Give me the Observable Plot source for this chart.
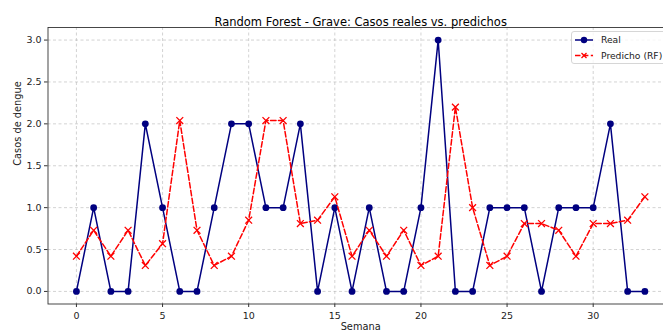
<!DOCTYPE html>
<html>
<head>
<meta charset="utf-8">
<script src="https://cdn.jsdelivr.net/npm/d3@7"></script>
<script src="https://cdn.jsdelivr.net/npm/@observablehq/plot@0.6"></script>
<style>
  html, body { margin: 0; padding: 0; background: #fff; overflow: hidden; width: 663px; height: 333px; }
  #chart { position: relative; width: 663px; height: 333px; overflow: hidden; }
  #chart svg { max-width: none !important; display: block; }
</style>
</head>
<body>
<div id="chart"></div>
<script>
const weeks = d3.range(0, 34);
const realCases = [0,1,0,0,2,1,0,0,1,2,2,1,1,2,0,1,0,1,0,0,1,3,0,0,1,1,1,0,1,1,1,2,0,0];
const predCases = [0.42,0.73,0.42,0.73,0.31,0.57,2.04,0.73,0.31,0.42,0.85,2.04,2.04,0.81,0.85,1.13,0.42,0.73,0.42,0.73,0.31,0.42,2.2,1.0,0.31,0.42,0.81,0.81,0.73,0.42,0.81,0.81,0.85,1.13];
const xTicks = [0,5,10,15,20,25,30];
const yTicks = [0,0.5,1,1.5,2,2.5,3];
const seriesNames = ["Real", "Predicho (RF)"];
const titleText = "Random Forest - Grave: Casos reales vs. predichos";
const xLabel = "Semana";
const yLabel = "Casos de dengue";

const real = weeks.map((w, i) => ({week: w, value: realCases[i]}));
const pred = weeks.map((w, i) => ({week: w, value: predCases[i]}));

const gridStyle = {stroke: "#b0b0b0", strokeOpacity: 0.7, strokeDasharray: "3,2.5", strokeWidth: 0.8};

const chart = Plot.plot({
  width: 680,
  height: 333,
  marginTop: 27,
  marginBottom: 29.5,
  marginLeft: 47.5,
  marginRight: 7.2,
  style: {fontFamily: "DejaVu Sans, sans-serif", fontSize: "9px", color: "#222", background: "#fff"},
  x: {domain: [-1.65, 34.65]},
  y: {domain: [-0.15, 3.15]},
  marks: [
    Plot.gridX(xTicks, gridStyle),
    Plot.gridY(yTicks, gridStyle),
    Plot.axisX(xTicks, {tickSize: 3.5, tickPadding: 4.5, tickFormat: d => String(d), label: null, fontSize: 9.5, stroke: "#333"}),
    Plot.axisY(yTicks, {tickSize: 3.5, tickPadding: 3, tickFormat: d3.format(".1f"), label: null, fontSize: 9.5, stroke: "#333"}),
    Plot.frame({stroke: "#333", strokeWidth: 0.9}),
    Plot.lineY(real, {x: "week", y: "value", stroke: "#000080", strokeWidth: 1.5}),
    Plot.dot(real, {x: "week", y: "value", fill: "#000080", r: 3.4}),
    Plot.lineY(pred, {x: "week", y: "value", stroke: "#ff0000", strokeWidth: 1.5, strokeDasharray: "5.5,2.4"}),
    Plot.dot(pred, {x: "week", y: "value", symbol: "times", stroke: "#ff0000", strokeWidth: 1.3, r: 3.2}),
    Plot.text([titleText], {frameAnchor: "top", dy: -10, fontSize: 11.5, fill: "#000"}),
    Plot.text([xLabel], {frameAnchor: "bottom", dy: 25.5, fontSize: 9.8, fill: "#222"}),
    Plot.text([yLabel], {frameAnchor: "left", dx: -30, rotate: -90, fontSize: 9.8, fill: "#222"})
  ]
});
chart.style.maxWidth = "none";
document.getElementById("chart").appendChild(chart);

// Legend
const svg = d3.select(chart);
const lg = svg.append("g").attr("transform", "translate(571.5,31.5)").attr("text-anchor", "start");
lg.append("rect").attr("x", 0).attr("y", 0).attr("width", 110).attr("height", 32)
  .attr("rx", 2.5).attr("fill", "#fff").attr("fill-opacity", 0.8).attr("stroke", "#cccccc").attr("stroke-width", 0.8);
const items = [
  {name: seriesNames[0], color: "#000080", dash: null, marker: "circle"},
  {name: seriesNames[1], color: "#ff0000", dash: "5.5,2.4", marker: "x"}
];
items.forEach((it, i) => {
  const y = 8.5 + i * 15.5;
  const g = lg.append("g").attr("transform", `translate(0,${y})`);
  g.append("line").attr("x1", 3.5).attr("x2", 21.5).attr("y1", 0).attr("y2", 0)
    .attr("stroke", it.color).attr("stroke-width", 1.5).attr("stroke-dasharray", it.dash);
  if (it.marker === "circle") {
    g.append("circle").attr("cx", 12.5).attr("cy", 0).attr("r", 3.2).attr("fill", it.color);
  } else {
    g.append("path").attr("d", "M10,-2.5L15,2.5M10,2.5L15,-2.5").attr("stroke", it.color).attr("stroke-width", 1.3);
  }
  g.append("text").attr("x", 29.5).attr("y", 0).attr("dy", "0.35em")
    .attr("font-size", 9.2).attr("fill", "#222").text(it.name);
});
</script>
</body>
</html>
